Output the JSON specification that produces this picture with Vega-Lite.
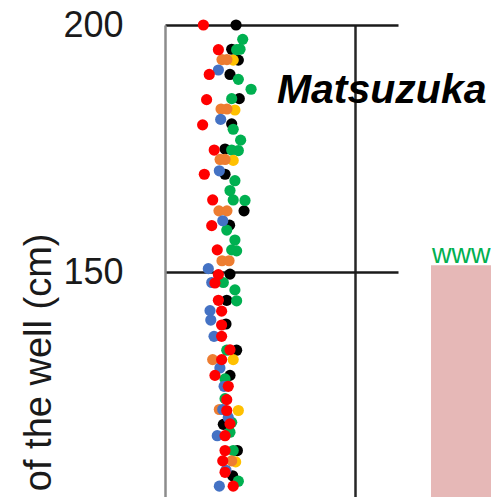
{
  "$schema": "https://vega.github.io/schema/vega-lite/v6.json",
  "autosize": {"type": "none"},
  "padding": {"left": 165, "top": 25, "right": 93, "bottom": 0},
  "width": 233,
  "height": 472,
  "background": "white",
  "config": {"view": {"stroke": null}, "font": "Liberation Sans"},
  "datasets": {
    "points": [
      {"series":"Black","x":37.4,"depth":200},
      {"series":"Black","x":35.1,"depth":195.1},
      {"series":"Black","x":38.6,"depth":192.9},
      {"series":"Black","x":34.2,"depth":190},
      {"series":"Black","x":39.1,"depth":185.1},
      {"series":"Black","x":35.1,"depth":180},
      {"series":"Black","x":31.6,"depth":174.9},
      {"series":"Black","x":31.6,"depth":169.8},
      {"series":"Black","x":41.6,"depth":162.4},
      {"series":"Black","x":34.0,"depth":159.5},
      {"series":"Black","x":34.2,"depth":149.6},
      {"series":"Black","x":32.5,"depth":144.3},
      {"series":"Black","x":32.1,"depth":139.5},
      {"series":"Black","x":37.7,"depth":134.2},
      {"series":"Black","x":34.2,"depth":129.1},
      {"series":"Black","x":30.7,"depth":119.2},
      {"series":"Black","x":38.1,"depth":113.9},
      {"series":"Black","x":35.6,"depth":108.8},
      {"series":"Green","x":40.9,"depth":197.1},
      {"series":"Green","x":37.7,"depth":195},
      {"series":"Green","x":39.5,"depth":195.1},
      {"series":"Green","x":38.6,"depth":189},
      {"series":"Green","x":45.3,"depth":187},
      {"series":"Green","x":35.1,"depth":185.1},
      {"series":"Green","x":35.9,"depth":178.9},
      {"series":"Green","x":39.8,"depth":176.7},
      {"series":"Green","x":35.1,"depth":174.7},
      {"series":"Green","x":38.6,"depth":174.6},
      {"series":"Green","x":36.8,"depth":168.5},
      {"series":"Green","x":34.2,"depth":166.5},
      {"series":"Green","x":35.9,"depth":164.6},
      {"series":"Green","x":42.1,"depth":164.5},
      {"series":"Green","x":32.5,"depth":158.5},
      {"series":"Green","x":36.8,"depth":156.5},
      {"series":"Green","x":35.1,"depth":154.5},
      {"series":"Green","x":37.7,"depth":154.3},
      {"series":"Green","x":30.7,"depth":147.9},
      {"series":"Green","x":36.8,"depth":146.4},
      {"series":"Green","x":37.7,"depth":144.2},
      {"series":"Green","x":32.5,"depth":134.2},
      {"series":"Green","x":31.6,"depth":128.4},
      {"series":"Green","x":31.6,"depth":124.4},
      {"series":"Green","x":35.1,"depth":119.6},
      {"series":"Green","x":34.2,"depth":117.6},
      {"series":"Green","x":35.9,"depth":113.9},
      {"series":"Green","x":38.6,"depth":107.7},
      {"series":"Yellow","x":35.9,"depth":192.9},
      {"series":"Yellow","x":36.8,"depth":182.8},
      {"series":"Yellow","x":35.9,"depth":172.6},
      {"series":"Yellow","x":35.9,"depth":132.3},
      {"series":"Yellow","x":38.6,"depth":122},
      {"series":"Yellow","x":37.2,"depth":111.6},
      {"series":"Orange","x":30.0,"depth":193},
      {"series":"Orange","x":32.6,"depth":193},
      {"series":"Orange","x":29.5,"depth":183},
      {"series":"Orange","x":32.6,"depth":183},
      {"series":"Orange","x":29.0,"depth":172.8},
      {"series":"Orange","x":31.6,"depth":172.8},
      {"series":"Orange","x":28.4,"depth":162.4},
      {"series":"Orange","x":32.6,"depth":162.4},
      {"series":"Orange","x":30.0,"depth":152.3},
      {"series":"Orange","x":33.7,"depth":152.3},
      {"series":"Orange","x":25.1,"depth":132.3},
      {"series":"Orange","x":28.6,"depth":122.2},
      {"series":"Orange","x":35.1,"depth":111.8},
      {"series":"Blue","x":28.1,"depth":190.9},
      {"series":"Blue","x":29.3,"depth":180.9},
      {"series":"Blue","x":28.6,"depth":170.5},
      {"series":"Blue","x":30.4,"depth":160.4},
      {"series":"Blue","x":22.8,"depth":150.7},
      {"series":"Blue","x":24.6,"depth":147.9},
      {"series":"Blue","x":23.7,"depth":142.2},
      {"series":"Blue","x":24.1,"depth":140.3},
      {"series":"Blue","x":25.8,"depth":137},
      {"series":"Blue","x":28.9,"depth":130.6},
      {"series":"Blue","x":31.1,"depth":126.9},
      {"series":"Blue","x":30.4,"depth":122.2},
      {"series":"Blue","x":33.3,"depth":120.6},
      {"series":"Blue","x":27.5,"depth":116.9},
      {"series":"Blue","x":32.1,"depth":109.9},
      {"series":"Blue","x":28.6,"depth":106.7},
      {"series":"Red","x":20.2,"depth":200},
      {"series":"Red","x":28.1,"depth":195},
      {"series":"Red","x":23.3,"depth":190},
      {"series":"Red","x":21.9,"depth":184.9},
      {"series":"Red","x":19.8,"depth":179.8},
      {"series":"Red","x":25.9,"depth":174.7},
      {"series":"Red","x":20.7,"depth":169.8},
      {"series":"Red","x":25.1,"depth":164.6},
      {"series":"Red","x":24.6,"depth":159.4},
      {"series":"Red","x":27.5,"depth":154.5},
      {"series":"Red","x":28.1,"depth":149.5},
      {"series":"Red","x":26.3,"depth":147.8},
      {"series":"Red","x":28.1,"depth":144.3},
      {"series":"Red","x":29.8,"depth":142.1},
      {"series":"Red","x":29.8,"depth":139.3},
      {"series":"Red","x":29.8,"depth":137},
      {"series":"Red","x":34.2,"depth":134.3},
      {"series":"Red","x":29.8,"depth":132.3},
      {"series":"Red","x":26.3,"depth":129.1},
      {"series":"Red","x":33.3,"depth":126.9},
      {"series":"Red","x":32.5,"depth":124.2},
      {"series":"Red","x":32.5,"depth":122},
      {"series":"Red","x":34.2,"depth":119.3},
      {"series":"Red","x":31.6,"depth":116.9},
      {"series":"Red","x":31.6,"depth":113.9},
      {"series":"Red","x":30.4,"depth":111.8},
      {"series":"Red","x":31.6,"depth":109.5},
      {"series":"Red","x":35.9,"depth":106.7}
    ],
    "panel": [{"x":140,"x2":180,"depth":151.4,"depth2":104.5}],
    "notes": [
      {"label":"Matsuzuka","x":58.9,"depth":184.2}
    ],
    "links": [
      {"label":"www","x":140.5,"depth":151.8}
    ]
  },
  "layer": [
    {
      "data": {"name": "panel"},
      "mark": {"type": "rect", "color": "#E6B8B7"},
      "encoding": {
        "x": {"field": "x", "type": "quantitative", "scale": {"domain": [0, 122.63], "nice": false, "zero": false},
              "axis": {"values": [100], "grid": true, "gridColor": "#262626", "gridWidth": 2.5, "labels": false, "ticks": false, "domain": false, "title": null}},
        "x2": {"field": "x2"},
        "y": {"field": "depth", "type": "quantitative", "scale": {"domain": [104.5, 200], "nice": false, "zero": false},
              "axis": {"values": [100, 150, 200], "grid": true, "gridColor": "#1a1a1a", "gridWidth": 2.5, "ticks": false,
                       "domainColor": "#8c8c8c", "domainWidth": 2.5,
                       "labelFontSize": 36, "labelColor": "#1a1a1a", "labelPadding": 42, "labelFont": "Liberation Sans",
                       "title": "of the well (cm)", "titleFontSize": 38, "titleFontWeight": "normal", "titleColor": "#1a1a1a",
                       "titleFont": "Liberation Sans", "titleAngle": -90, "titleAlign": "right", "titleBaseline": "alphabetic",
                       "titleX": -115, "titleY": 208}},
        "y2": {"field": "depth2"}
      }
    },
    {
      "data": {"name": "links"},
      "mark": {"type": "text", "align": "left", "baseline": "alphabetic", "fontSize": 27, "color": "#00B050", "font": "Liberation Sans"},
      "encoding": {
        "x": {"field": "x", "type": "quantitative"},
        "y": {"field": "depth", "type": "quantitative"},
        "text": {"field": "label"}
      }
    },
    {
      "data": {"name": "points"},
      "mark": {"type": "circle", "size": 125, "opacity": 1},
      "encoding": {
        "x": {"field": "x", "type": "quantitative"},
        "y": {"field": "depth", "type": "quantitative"},
        "color": {"field": "series", "type": "nominal",
                  "scale": {"domain": ["Black","Green","Yellow","Orange","Blue","Red"],
                            "range": ["#000000","#00B050","#FFC000","#ED7D31","#4472C4","#FF0000"]},
                  "legend": null}
      }
    },
    {
      "data": {"name": "notes"},
      "mark": {"type": "text", "align": "left", "baseline": "alphabetic", "fontSize": 41, "fontWeight": "bold", "fontStyle": "italic", "color": "#000000", "font": "Liberation Sans"},
      "encoding": {
        "x": {"field": "x", "type": "quantitative"},
        "y": {"field": "depth", "type": "quantitative"},
        "text": {"field": "label"}
      }
    }
  ]
}
